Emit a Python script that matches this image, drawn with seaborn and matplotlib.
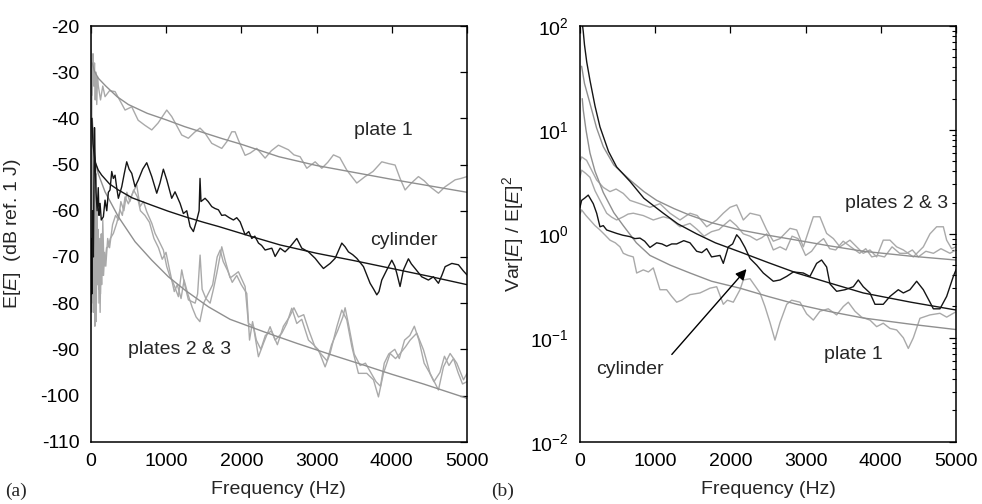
import numpy as np
import pandas as pd
import matplotlib
matplotlib.use("Agg")
import matplotlib.pyplot as plt
import seaborn as sns

# ---------------- data: panel (a) E[E] in dB ----------------
p1_f = [0, 10, 20, 30, 40, 50, 60, 70, 80, 90, 101, 130, 160, 190, 250, 323, 400, 456, 545, 630,
        720, 811, 895, 1010, 1076, 1140, 1209, 1297, 1380, 1452, 1519, 1608, 1680, 1741, 1810, 1874,
        1918, 1962, 2051, 2120, 2206, 2317, 2400, 2494, 2627, 2700, 2782, 2871, 2982, 3070, 3150,
        3225, 3310, 3402, 3535, 3645, 3750, 3867, 3960, 4044, 4110, 4177, 4260, 4354, 4430, 4509,
        4620, 4709, 4842, 4920, 5000]
p1_db = [-40, -27, -35, -26, -33, -28, -36, -30, -37, -31, -33, -36, -33, -35.3, -34, -34.2, -36.5,
         -38.2, -37.5, -40.4, -41.5, -42.5, -41, -38.2, -39.6, -41.5, -43.6, -44.3, -43, -42.1, -43.2,
         -45.4, -46, -46.5, -45, -42.9, -42.9, -44.7, -48, -47.5, -46.5, -48.6, -47, -45.8, -46.8,
         -47.9, -48.3, -50.8, -49.4, -50.8, -49.5, -47.9, -48.5, -51.2, -54, -52.6, -51.5, -49.4,
         -49.8, -50.1, -53, -55.5, -54, -52.6, -53.5, -54.8, -56.2, -54.8, -53.3, -53, -52.6]

p1_fit_f = [20, 50, 100, 200, 350, 500, 750, 1000, 1250, 1500, 1750, 2000, 2500, 3000, 3500, 4000, 4500, 5000]
p1_fit_db = [-28, -29.8, -31.3, -33, -35.3, -37, -38.9, -40.3, -41.8, -43.1, -44.4, -45.6, -48.3,
             -50.2, -51.7, -53.2, -54.6, -56]

cyl_f = [0, 8, 15, 25, 35, 45, 50, 57, 70, 85, 100, 110, 124, 140, 168, 190, 213, 234, 256, 279, 300,
         323, 345, 367, 412, 445, 478, 510, 545, 589, 633, 690, 744, 811, 877, 920, 965, 1010, 1076,
         1120, 1187, 1231, 1276, 1320, 1364, 1409, 1440, 1452, 1465, 1519, 1560, 1608, 1650, 1697,
         1740, 1785, 1840, 1896, 1940, 1985, 2051, 2100, 2140, 2180, 2229, 2270, 2317, 2406, 2450,
         2516, 2582, 2649, 2738, 2804, 2893, 2982, 3040, 3092, 3181, 3247, 3336, 3380, 3424, 3480,
         3535, 3624, 3712, 3760, 3801, 3830, 3867, 3934, 4000, 4040, 4066, 4110, 4155, 4221, 4260,
         4310, 4398, 4487, 4553, 4620, 4665, 4709, 4798, 4886, 4950, 5000]
cyl_db = [-82, -66, -78, -60, -70, -50, -42, -48, -56, -60, -55, -61, -58.4, -62, -61.3, -57.7, -60,
          -56, -55.5, -51.5, -53, -52.3, -55, -57.3, -54.8, -52, -49.4, -51, -51.9, -54.8, -53.3, -51,
          -49.6, -52.6, -56.2, -54, -51, -53.3, -57.3, -55.9, -58.4, -60.6, -60, -63.4, -64.5, -62,
          -60, -53, -58, -57.3, -58, -59.1, -59.5, -59.8, -61, -60.9, -61.5, -62, -61.5, -62.4, -65.2,
          -64.5, -66, -65.5, -67, -67.5, -68.5, -68.1, -69.9, -68.1, -68.9, -67.8, -66, -68.1, -68.9,
          -70.3, -71.5, -72.5, -71.4, -70.3, -67, -67.8, -68.9, -69.5, -70.3, -72.1, -75.7, -77,
          -78.2, -77.5, -75, -72.8, -70.7, -72, -73.5, -76.4, -72.8, -70.4, -71.5, -72.5, -74.3, -75,
          -74.3, -75.7, -74, -72.1, -71.4, -71.7, -73, -73.9]

cyl_fit_f = [15, 30, 57, 100, 146, 250, 367, 550, 811, 1030, 1254, 1500, 1697, 2000, 2140, 2516,
             3000, 3500, 4000, 4500, 5000]
cyl_fit_db = [-40, -45.5, -49.4, -51.2, -52.3, -54.2, -55.5, -57.2, -58.8, -60.1, -61.3, -62.5, -63.4,
              -64.9, -65.6, -67.4, -69.2, -70.8, -72.5, -74.2, -76]

p2_f = [0, 5, 10, 15, 20, 25, 30, 35, 40, 45, 50, 55, 60, 65, 70, 75, 80, 90, 100, 110, 120, 130, 140,
        150, 160, 175, 190, 210, 234, 260, 301, 345, 389, 420, 456, 500, 545, 611, 655, 700, 744, 811,
        855, 899, 965, 1010, 1054, 1098, 1165, 1209, 1254, 1298, 1387, 1420, 1453, 1480, 1530, 1586,
        1630, 1675, 1741, 1785, 1851, 1874, 1962, 2051, 2095, 2162, 2228, 2295, 2383, 2450, 2539,
        2605, 2671, 2738, 2804, 2893, 2960, 3025, 3114, 3180, 3270, 3336, 3402, 3469, 3557, 3668,
        3757, 3823, 3889, 3978, 4050, 4111, 4180, 4244, 4332, 4421, 4509, 4620, 4687, 4775, 4864,
        4953, 5000]
p2_db = [-20, -50, -30, -65, -40, -75, -45, -82, -50, -70, -55, -85, -58, -75, -52, -80, -60, -76, -68,
         -80, -66, -78, -65, -74, -62, -72, -71.3, -68, -67.8, -66, -64.9, -62.7, -59.8, -61, -57,
         -58.5, -56.6, -54.4, -59.1, -58, -60.2, -62.7, -64.9, -66.3, -68.5, -72.1, -74.3, -75.7,
         -78.6, -72.8, -76.4, -79.3, -80, -78, -69.6, -77, -79, -80, -77, -73.5, -67.8, -70.7, -74.5,
         -74.3, -73.2, -76.4, -84.4, -85.1, -91.6, -88.7, -85.1, -88, -86.5, -84.4, -81.1, -84.4,
         -83.5, -88, -89, -90.1, -93.8, -90.9, -85.1, -81.5, -83.6, -89.4, -95.2, -95.2, -96.6,
         -100.3, -95.2, -90.9, -92, -90.9, -89.5, -88, -86.5, -90.1, -95.2, -98.8, -93.8, -90.9,
         -93, -96.6, -95.2]

p3_f = [0, 5, 10, 15, 20, 25, 30, 35, 40, 45, 50, 55, 60, 65, 70, 75, 85, 95, 105, 115, 125, 135, 145,
        155, 170, 185, 200, 225, 250, 290, 330, 370, 400, 440, 480, 520, 570, 620, 660, 720, 780, 840,
        900, 950, 1000, 1050, 1110, 1150, 1200, 1240, 1290, 1350, 1400, 1450, 1500, 1560, 1620, 1680,
        1720, 1760, 1820, 1880, 1940, 2000, 2073, 2110, 2150, 2200, 2260, 2320, 2400, 2480, 2560,
        2640, 2700, 2760, 2830, 2900, 2980, 3060, 3140, 3200, 3280, 3350, 3380, 3430, 3500, 3580,
        3650, 3720, 3790, 3850, 3900, 3960, 4040, 4100, 4170, 4240, 4300, 4360, 4430, 4500, 4560,
        4640, 4700, 4760, 4820, 4880, 4940, 5000]
p3_db = [-25, -60, -35, -72, -45, -58, -80, -50, -68, -55, -78, -60, -70, -56, -84, -62, -72, -64, -77,
         -70, -82, -68, -76, -66, -74, -69, -72, -66, -68, -63, -61, -62, -58, -60, -56, -58, -55.5,
         -57, -60, -61, -62.5, -66, -68, -70.5, -69, -73, -77.5, -76, -79, -75, -78, -81, -83, -84,
         -80, -78, -76, -70, -68.5, -71, -73, -75.5, -74, -76, -77.9, -88, -84, -88, -90, -87, -86,
         -89, -85, -83, -81, -83, -82.5, -86, -89.5, -91, -92.5, -89, -86, -83, -81, -85, -91, -93.5,
         -93, -95, -97, -98, -93, -91, -90, -92, -88, -87, -85, -88, -93, -95, -97, -95, -91.5, -93.5,
         -92, -95, -97.5, -97]

p23_fit_f = [20, 40, 57, 100, 190, 367, 589, 811, 1032, 1254, 1564, 1851, 2300, 2738, 3200, 3624,
             4000, 4421, 5000]
p23_fit_db = [-40, -46, -49, -52, -55.9, -61.3, -66.7, -70.7, -74.3, -77.2, -80.8, -83.5, -86.2,
              -88.7, -91.2, -93.4, -95.4, -97.5, -100.6]

# ---------------- data: panel (b) Var[E]/E[E]^2 ----------------
vc_f = [0, 22, 60, 110, 177, 222, 266, 310, 355, 420, 488, 570, 665, 730, 798, 860, 931, 1020, 1090,
        1153, 1220, 1286, 1380, 1463, 1552, 1620, 1685, 1750, 1862, 1906, 1973, 2030, 2084, 2128,
        2194, 2261, 2350, 2438, 2571, 2660, 2749, 2837, 2970, 3058, 3147, 3213, 3280, 3324, 3413,
        3524, 3635, 3701, 3767, 3856, 3923, 4033, 4122, 4233, 4300, 4388, 4477, 4566, 4654, 4699,
        4787, 4876, 4965, 5000]
vc_v = [1.8, 2.1, 2.2, 2.36, 1.95, 1.58, 1.17, 1.2, 1.09, 1.05, 1.01, 0.97, 0.94, 0.9, 0.91, 0.85,
        0.74, 0.82, 0.8, 0.76, 0.8, 0.8, 0.86, 0.82, 0.68, 0.66, 0.72, 0.6, 0.62, 0.52, 0.75, 0.8,
        0.98, 0.9, 0.74, 0.58, 0.5, 0.42, 0.35, 0.36, 0.39, 0.43, 0.42, 0.39, 0.52, 0.56, 0.48, 0.33,
        0.28, 0.29, 0.31, 0.36, 0.31, 0.27, 0.21, 0.21, 0.25, 0.29, 0.27, 0.29, 0.35, 0.29, 0.22,
        0.19, 0.19, 0.25, 0.39, 0.45]

vc_fit_f = [35, 44, 60, 90, 133, 200, 266, 380, 488, 665, 850, 1108, 1300, 1551, 1800, 2128, 2500,
            2882, 3300, 3767, 4400, 5000]
vc_fit_v = [100, 88, 66, 45, 30, 17, 10.7, 6.2, 4.4, 3.2, 2.2, 1.58, 1.25, 1.0, 0.82, 0.67, 0.53,
            0.42, 0.34, 0.27, 0.22, 0.185]

v1_f = [0, 22, 80, 133, 200, 266, 330, 399, 470, 532, 576, 640, 709, 754, 842, 910, 975, 1064, 1153,
        1220, 1286, 1352, 1463, 1596, 1729, 1818, 1906, 1960, 2039, 2128, 2172, 2261, 2394, 2460,
        2527, 2593, 2660, 2749, 2815, 2926, 3014, 3103, 3191, 3302, 3413, 3502, 3568, 3657, 3745,
        3856, 3945, 4033, 4122, 4211, 4300, 4366, 4433, 4521, 4654, 4787, 4876, 5000]
v1_v = [1.55, 1.7, 1.5, 1.36, 1.2, 1.09, 0.98, 0.87, 0.82, 0.75, 0.65, 0.62, 0.6, 0.42, 0.45, 0.43,
        0.47, 0.29, 0.29, 0.25, 0.22, 0.23, 0.26, 0.27, 0.3, 0.31, 0.21, 0.23, 0.22, 0.29, 0.36, 0.37,
        0.27, 0.2, 0.14, 0.095, 0.14, 0.21, 0.23, 0.22, 0.17, 0.148, 0.18, 0.19, 0.166, 0.2, 0.22,
        0.18, 0.158, 0.148, 0.128, 0.138, 0.123, 0.119, 0.10, 0.079, 0.10, 0.154, 0.166, 0.172,
        0.158, 0.178]

v1_fit_f = [30, 44, 80, 133, 200, 310, 450, 576, 750, 931, 1200, 1463, 1750, 2128, 2500, 2882, 3300,
            3767, 4400, 5000]
v1_fit_v = [20, 15.5, 10, 6, 4, 2.5, 1.6, 1.2, 0.82, 0.62, 0.5, 0.42, 0.35, 0.3, 0.25, 0.21, 0.18,
            0.155, 0.135, 0.12]

v2_f = [0, 22, 88, 133, 222, 310, 399, 480, 576, 665, 798, 931, 1064, 1197, 1330, 1463, 1560, 1685,
        1818, 1906, 1995, 2084, 2172, 2261, 2394, 2483, 2571, 2660, 2793, 2882, 2970, 3103, 3191,
        3280, 3370, 3457, 3590, 3679, 3767, 3856, 3945, 4033, 4122, 4211, 4300, 4432, 4566, 4654,
        4743, 4832, 4876, 4942, 5000]
v2_v = [5, 5.5, 5.1, 4.4, 3.3, 2.8, 2.55, 2.7, 2.45, 2.1, 1.95, 1.8, 1.95, 1.58, 1.36, 1.58, 1.5,
        1.17, 1.36, 1.58, 1.8, 1.9, 1.36, 1.58, 1.5, 1.09, 0.85, 0.9, 1.13, 1.09, 0.75, 1.46, 1.46,
        1.01, 0.9, 0.75, 0.87, 0.75, 0.65, 0.7, 0.6, 0.87, 0.87, 0.75, 0.7, 0.6, 0.75, 1.0, 1.17,
        1.17, 0.87, 0.72, 0.75]

v3_f = [0, 22, 80, 133, 200, 266, 355, 420, 488, 576, 640, 709, 842, 975, 1108, 1200, 1330, 1463,
        1560, 1650, 1750, 1850, 1906, 1995, 2080, 2172, 2261, 2350, 2420, 2483, 2571, 2660, 2740,
        2820, 2900, 3000, 3080, 3150, 3240, 3320, 3400, 3500, 3600, 3720, 3800, 3880, 3960, 4050,
        4150, 4250, 4344, 4420, 4500, 4600, 4700, 4800, 4920, 5000]
v3_v = [3.5, 4.1, 3.8, 3.5, 2.6, 2.1, 1.58, 1.45, 1.36, 1.46, 1.55, 1.58, 1.5, 1.36, 1.46, 1.4, 1.17,
        1.26, 1.1, 0.95, 1.05, 1.1, 1.2, 1.36, 1.2, 1.0, 0.95, 0.87, 0.92, 1.0, 0.7, 0.75, 0.7, 0.95,
        0.9, 0.62, 0.68, 0.8, 0.9, 0.72, 0.7, 0.85, 0.75, 0.65, 0.72, 0.6, 0.62, 0.6, 0.75, 0.65,
        0.65, 0.7, 0.6, 0.68, 0.65, 0.72, 0.65, 0.7]

v23_fit_f = [22, 60, 133, 220, 310, 450, 665, 850, 1020, 1250, 1463, 1750, 2128, 2500, 2882, 3300,
             3767, 4400, 5000]
v23_fit_v = [41, 28, 18, 10.5, 6.9, 4.6, 3.3, 2.55, 2.1, 1.75, 1.51, 1.28, 1.09, 0.97, 0.87, 0.77,
             0.68, 0.61, 0.56]

x_ticks = [0, 1000, 2000, 3000, 4000, 5000]
ya_ticks = [-110, -100, -90, -80, -70, -60, -50, -40, -30, -20]

# ---------------- style ----------------
sns.set_theme(style="white")
plt.rcParams["font.family"] = ["Liberation Sans", "DejaVu Sans"]
plt.rcParams["mathtext.fontset"] = "custom"
plt.rcParams["mathtext.rm"] = "Liberation Sans"
plt.rcParams["mathtext.it"] = "Liberation Sans:italic"
plt.rcParams["mathtext.default"] = "regular"
plt.rcParams["axes.unicode_minus"] = False

FS = 14
GRAY_N = "#a9a9a9"
GRAY_S = "#8f8f8f"
BLACK = "#151515"
LW = 1.0

fig = plt.figure(figsize=(9.82, 5.04), dpi=100)
ax1 = fig.add_axes([0.0924, 0.1236, 0.3832, 0.8248])
ax2 = fig.add_axes([0.5906, 0.1236, 0.3829, 0.8248])


def draw(ax, f, v, color):
    df = pd.DataFrame({"f": f, "v": v})
    sns.lineplot(data=df, x="f", y="v", ax=ax, color=color, lw=LW, estimator=None,
                 sort=False, legend=False)


# panel (a)
draw(ax1, p2_f, p2_db, GRAY_N)
draw(ax1, p3_f, p3_db, GRAY_N)
draw(ax1, p1_f, p1_db, GRAY_N)
draw(ax1, p1_fit_f, p1_fit_db, GRAY_S)
draw(ax1, p23_fit_f, p23_fit_db, GRAY_S)
draw(ax1, cyl_f, cyl_db, BLACK)
draw(ax1, cyl_fit_f, cyl_fit_db, BLACK)

# panel (b)
ax2.set_yscale("log")
draw(ax2, v2_f, v2_v, GRAY_N)
draw(ax2, v3_f, v3_v, GRAY_N)
draw(ax2, v1_f, v1_v, GRAY_N)
draw(ax2, v23_fit_f, v23_fit_v, GRAY_S)
draw(ax2, v1_fit_f, v1_fit_v, GRAY_S)
draw(ax2, vc_f, vc_v, BLACK)
draw(ax2, vc_fit_f, vc_fit_v, BLACK)

for ax in (ax1, ax2):
    ax.set_xlim(0, 5000)
    ax.set_xticks(x_ticks)
    ax.tick_params(axis="both", which="both", direction="in", top=True, right=True,
                   labelsize=FS, pad=8, colors="black")
    ax.tick_params(axis="both", which="major", length=5, width=0.9)
    ax.tick_params(axis="both", which="minor", length=3, width=0.8)
    for s in ax.spines.values():
        s.set_color("black")
        s.set_linewidth(1.1)
    ax.set_xlabel("Frequency (Hz)", fontsize=FS)
    ax.xaxis.set_label_coords(0.5, -0.095)

ax1.set_ylim(-110, -20)
ax1.set_yticks(ya_ticks)
ax1.set_ylabel("E[$\\mathit{E}$]  (dB ref. 1 J)", fontsize=FS)
ax1.yaxis.set_label_coords(-0.18, 0.5)

ax2.set_ylim(1e-2, 1e2)
ax2.set_ylabel("Var[$\\mathit{E}$] / E[$\\mathit{E}$]$^2$", fontsize=FS)
ax2.yaxis.set_label_coords(-0.144, 0.5)

# annotations
ax1.text(3885, -42.7, "plate 1", fontsize=FS, ha="center", va="center")
ax1.text(4166, -66.5, "cylinder", fontsize=FS, ha="center", va="center")
ax1.text(1175, -90.1, "plates 2 & 3", fontsize=FS, ha="center", va="center")

ax2.text(4894, 1.98, "plates 2 & 3", fontsize=FS, ha="right", va="center")
ax2.text(3630, 0.0697, "plate 1", fontsize=FS, ha="center", va="center")
ax2.text(665, 0.049, "cylinder", fontsize=FS, ha="center", va="center")
ax2.annotate("", xy=(2239, 0.48), xytext=(1197, 0.066),
             arrowprops=dict(arrowstyle="-|>", color="black", lw=1.0, mutation_scale=16))

fig.text(5 / 982, 1 - 491 / 504, "(a)", fontsize=FS, family="Liberation Serif", va="center")
fig.text(491 / 982, 1 - 491 / 504, "(b)", fontsize=FS, family="Liberation Serif", va="center")

fig.savefig("out.png", dpi=100)
